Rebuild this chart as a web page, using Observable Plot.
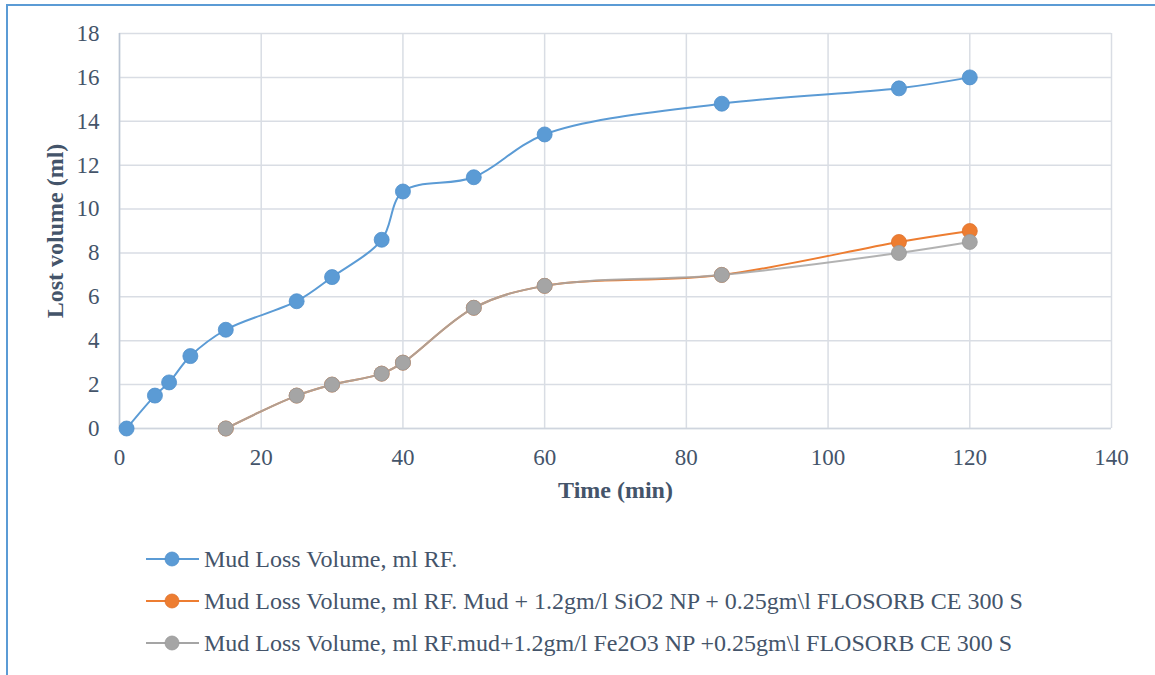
<!DOCTYPE html>
<html><head><meta charset="utf-8">
<script src="https://cdn.jsdelivr.net/npm/d3@7"></script>
<script src="https://cdn.jsdelivr.net/npm/@observablehq/plot@0.6"></script>
<style>
html,body{margin:0;padding:0;background:#fff;}
body{width:1155px;height:675px;overflow:hidden;position:relative;font-family:"Liberation Serif","Times New Roman",serif;}
#frame{position:absolute;left:6px;top:4px;width:1300px;height:800px;border-left:2px solid #5b9bd5;border-top:2px solid #5b9bd5;box-sizing:border-box;}
#chart{position:absolute;left:0;top:0;}
#chart g[aria-label="x-axis label"] text, #chart g[aria-label="y-axis label"] text{font-weight:bold;font-size:24px;}
.lrow{position:absolute;left:146px;height:42px;display:flex;align-items:center;font-size:24px;color:#44546a;white-space:nowrap;font-family:"Liberation Serif","Times New Roman",serif;}
.lrow svg{margin-right:5px;}
</style>
</head><body>
<div id="frame"></div>
<div id="chart"></div>
<div id="legend"></div>
<script>
// Data
const timeRF = [1, 5, 7, 10, 15, 25, 30, 37, 40, 50, 60, 85, 110, 120];
const lossRF = [0, 1.5, 2.1, 3.3, 4.5, 5.8, 6.9, 8.6, 10.8, 11.45, 13.4, 14.8, 15.5, 16];
const timeSiO2 = [15, 25, 30, 37, 40, 50, 60, 85, 110, 120];
const lossSiO2 = [0, 1.5, 2, 2.5, 3, 5.5, 6.5, 7, 8.5, 9];
const timeFe2O3 = [15, 25, 30, 37, 40, 50, 60, 85, 110, 120];
const lossFe2O3 = [0, 1.5, 2, 2.5, 3, 5.5, 6.5, 7, 8, 8.5];
const seriesNames = [
  "Mud Loss Volume, ml RF.",
  "Mud Loss Volume, ml RF. Mud + 1.2gm/l SiO2 NP + 0.25gm\\l FLOSORB CE 300 S",
  "Mud Loss Volume, ml RF.mud+1.2gm/l Fe2O3 NP +0.25gm\\l FLOSORB CE 300 S"
];
const seriesColors = ["#5b9bd5", "#ed7d31", "#a5a5a5"];
const dotStrokes = ["#4f8fcb", "#e0702a", "#999999"];
const xTicks = [0, 20, 40, 60, 80, 100, 120, 140];
const yTicks = [0, 2, 4, 6, 8, 10, 12, 14, 16, 18];

const series = [
  timeRF.map((t, i) => ({t, v: lossRF[i]})),
  timeSiO2.map((t, i) => ({t, v: lossSiO2[i]})),
  timeFe2O3.map((t, i) => ({t, v: lossFe2O3[i]}))
];

const marks = [
  Plot.gridX(xTicks, {stroke: "#d9dde4", strokeOpacity: 1, strokeWidth: 1.5}),
  Plot.gridY(yTicks, {stroke: "#d9dde4", strokeOpacity: 1, strokeWidth: 1.5}),
  Plot.ruleX([0], {stroke: "#bcc6d4", strokeWidth: 1.5}),
  Plot.ruleY([0], {stroke: "#cfd5de", strokeWidth: 1.5}),
  Plot.axisX(xTicks, {tickSize: 0, tickPadding: 20, label: "Time (min)", labelAnchor: "center", labelOffset: 69, labelArrow: "none"}),
  Plot.axisY(yTicks, {tickSize: 0, tickPadding: 20, label: "Lost volume (ml)", labelAnchor: "center", labelOffset: 74, labelArrow: "none"})
];
series.forEach((d, i) => {
  marks.push(Plot.line(d, {x: "t", y: "v", stroke: seriesColors[i], strokeWidth: 2, curve: "catmull-rom", strokeOpacity: i === 2 ? 0.85 : 1}));
  marks.push(Plot.dot(d, {x: "t", y: "v", r: 7.5, fill: seriesColors[i], stroke: dotStrokes[i], strokeWidth: 0.8}));
});

const chart = Plot.plot({
  width: 1155, height: 510,
  marginLeft: 119, marginRight: 44, marginTop: 33, marginBottom: 82,
  style: {fontFamily: "'Liberation Serif', 'Times New Roman', serif", fontSize: "23px", color: "#44546a", background: "transparent", overflow: "visible"},
  x: {domain: [0, 140]},
  y: {domain: [0, 18]},
  marks
});
document.getElementById("chart").appendChild(chart);

// Legend
const rowCenters = [559, 601, 643];
const legend = document.getElementById("legend");
seriesNames.forEach((name, i) => {
  const row = document.createElement("div");
  row.className = "lrow";
  row.style.top = (rowCenters[i] - 21) + "px";
  row.innerHTML = `<svg width="53" height="20" viewBox="0 0 53 20"><line x1="0" y1="10" x2="53" y2="10" stroke="${seriesColors[i]}" stroke-width="2"/><circle cx="26" cy="10" r="7" fill="${seriesColors[i]}" stroke="${dotStrokes[i]}" stroke-width="0.8"/></svg>`;
  const span = document.createElement("span");
  span.textContent = name;
  row.appendChild(span);
  legend.appendChild(row);
});
</script>
</body></html>
